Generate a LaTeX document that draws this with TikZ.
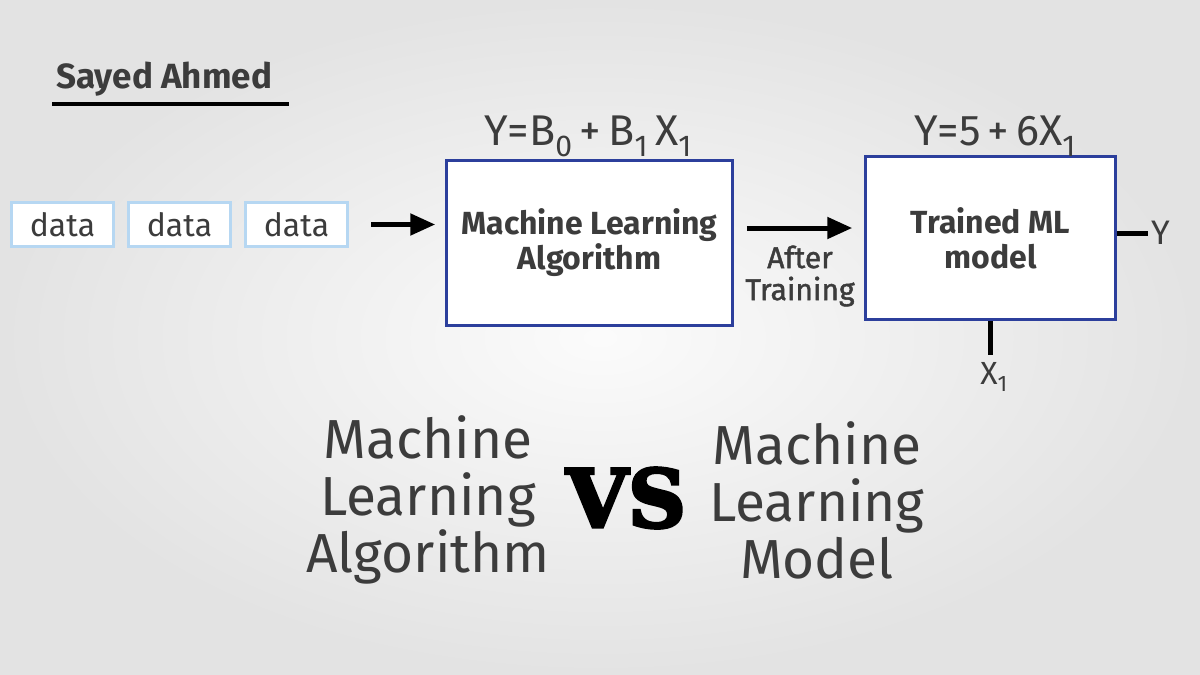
\documentclass[tikz,border=0pt]{standalone}
\usepackage{fontspec}
\setmainfont{Fira Sans}
\newfontfamily\vsfont[BoldFont={DejaVu Serif Bold},BoldFeatures={FakeBold=4}]{DejaVu Serif}
\newfontfamily\medfont[BoldFont={Fira Sans},BoldFeatures={FakeBold=1.5}]{Fira Sans}
\usetikzlibrary{positioning,arrows.meta}
\definecolor{ink}{HTML}{3C3C3C}
\definecolor{boxblue}{HTML}{2C3F9C}
\definecolor{lightblue}{HTML}{B6D7F2}
\tikzset{
  databox/.style={draw=lightblue, line width=3pt, fill=white, minimum width=102pt, minimum height=44pt, inner sep=0pt, text=ink, font=\fontsize{32}{34}\selectfont},
  mlbox/.style={draw=boxblue, line width=2.5pt, fill=white, inner sep=0pt, align=center, text=ink, font=\bfseries\fontsize{32}{35}\selectfont},
  lbl/.style={inner sep=0pt, text=ink},
  formula/.style={lbl, anchor=base, font=\fontsize{43}{46}\selectfont},
  bigtitle/.style={lbl, align=center, font=\fontsize{55}{57}\selectfont},
  wire/.style={line width=5pt, black},
}
\begin{document}
\begin{tikzpicture}[x=1pt, y=-1pt, >={Triangle[length=25pt,width=21pt]}]
  \shade[inner color=gray!3, outer color=gray!22] (0,0) rectangle (1200,675);
  \useasboundingbox (0,0) rectangle (1200,675);

  % author
  \node[lbl, anchor=base west, font=\bfseries\fontsize{35}{36}\selectfont] (author) at (56,88) {Sayed Ahmed};
  \draw[line width=4pt] (52,104) -- (289,104);

  % data boxes
  \node[databox] (d1) at (62.5,224.5) {data};
  \node[databox, right=12pt of d1] (d2) {data};
  \node[databox, right=12pt of d2] (d3) {data};

  % algorithm and model
  \node[mlbox, minimum width=286pt, minimum height=165pt] (alg) at (589.5,243) {Machine Learning\\Algorithm};
  \node[mlbox, minimum width=250pt, minimum height=163pt] (mod) at (990.5,238) {Trained ML\\model};
  \node[formula] (falg) at (588,145) {Y=B\textsubscript{0}\,+\,B\textsubscript{1}\,X\textsubscript{1}};
  \node[formula] (fmod) at (995,145) {Y=5\,+\,6X\textsubscript{1}};

  \draw[wire, ->, shorten <=22pt, shorten >=10pt] (d3.east) -- (d3.east -| alg.west);
  \draw[wire, ->, shorten <=13pt, shorten >=12pt] ([yshift=15pt]alg.east) -- ([yshift=15pt]alg.east -| mod.west);
  \node[lbl, align=center, font=\medfont\bfseries\fontsize{30}{32}\selectfont] (aft) at (800,276) {After\\Training};

  % inputs and outputs of the model
  \node[lbl, font=\fontsize{34}{36}\selectfont] (yout) at (1161,233) {Y};
  \node[lbl, font=\fontsize{32}{34}\selectfont] (xin) at (994,377) {X\textsubscript{1}};
  \draw[wire] ([yshift=5pt]mod.east) -- ++(31,0);
  \draw[wire] (mod.south) -- ++(0,34);

  % bottom titles
  \node[bigtitle] (talg) at (428,500) {Machine\\Learning\\Algorithm};
  \node[bigtitle] (tmod) at (817,500) {Machine\\Learning\\Model};
  \node[inner sep=0pt, font=\vsfont\bfseries\fontsize{80}{80}\selectfont] (vs) at (626,498) {VS};
\end{tikzpicture}
\end{document}
